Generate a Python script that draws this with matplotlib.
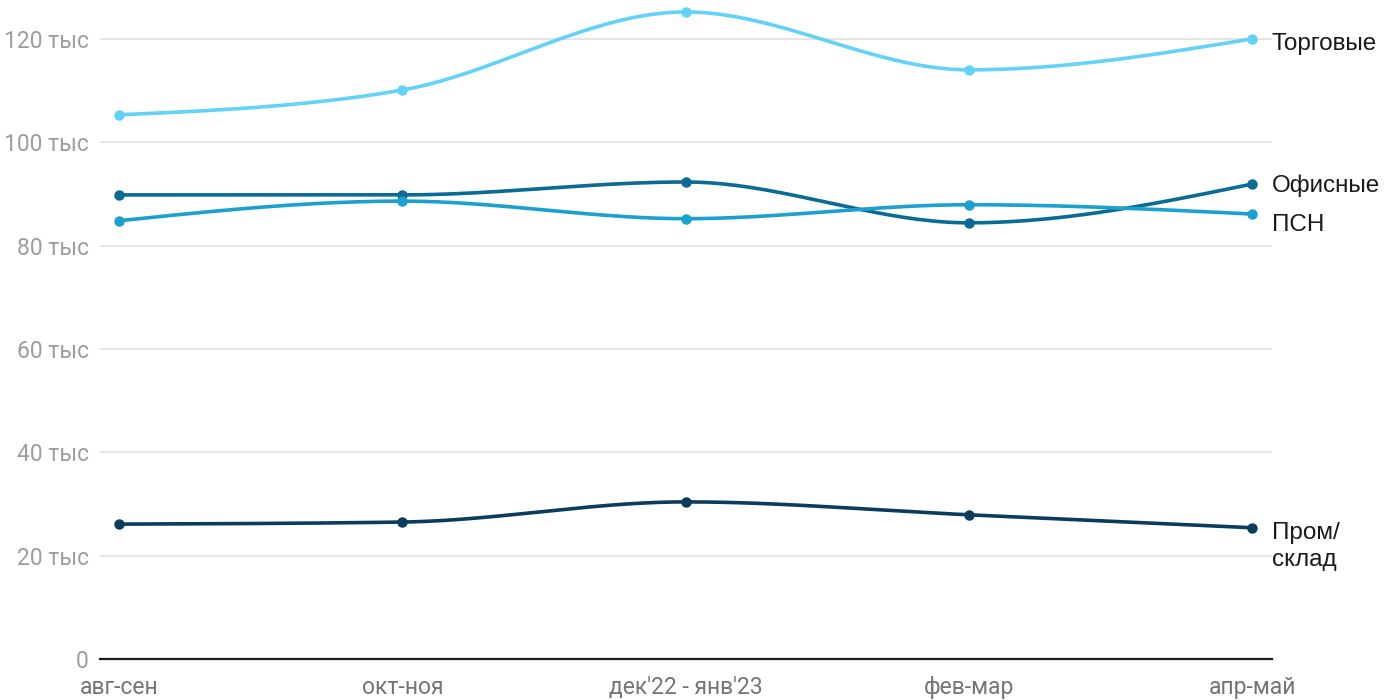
import numpy as np
import matplotlib
matplotlib.use('Agg')
import matplotlib.pyplot as plt

periods = ["авг-сен", "окт-ноя", "дек'22 - янв'23", "фев-мар", "апр-май"]
trade = [105.3, 110.1, 125.2, 114.0, 120.0]
office = [89.8, 89.8, 92.3, 84.4, 91.9]
psn = [84.8, 88.6, 85.2, 87.9, 86.1]
industrial = [26.1, 26.5, 30.4, 27.9, 25.4]

series = [
    ("Торговые", trade, "#62d2f9"),
    ("Офисные", office, "#0a6b96"),
    ("ПСН", psn, "#1ba1cf"),
    ("Пром/\nсклад", industrial, "#0b3c5d"),
]
label_y = {"Торговые": 119.0, "Офисные": 91.5, "ПСН": 84.0, "Пром/\nсклад": 21.7}


def monotone(x, y, n=40):
    # monotone cubic curve, like d3.curveMonotoneX
    x = np.asarray(x, float)
    y = np.asarray(y, float)
    h = np.diff(x)
    s = np.diff(y) / h
    m = np.zeros_like(y)
    for i in range(1, len(y) - 1):
        if s[i - 1] * s[i] <= 0:
            m[i] = 0
        else:
            p = (s[i - 1] * h[i] + s[i] * h[i - 1]) / (h[i - 1] + h[i])
            m[i] = np.sign(s[i - 1]) * min(abs(s[i - 1]), abs(s[i]), 0.5 * abs(p)) * 2
    m[0] = (3 * s[0] - m[1]) / 2 if len(y) > 2 else s[0]
    m[-1] = (3 * s[-1] - m[-2]) / 2 if len(y) > 2 else s[-1]
    xs, ys = [], []
    for i in range(len(h)):
        t = np.linspace(0, 1, n)
        h00 = 2 * t**3 - 3 * t**2 + 1
        h10 = t**3 - 2 * t**2 + t
        h01 = -2 * t**3 + 3 * t**2
        h11 = t**3 - t**2
        xs.append(x[i] + t * h[i])
        ys.append(h00 * y[i] + h10 * h[i] * m[i] + h01 * y[i + 1] + h11 * h[i] * m[i + 1])
    return np.concatenate(xs), np.concatenate(ys)


fig = plt.figure(figsize=(14, 7), dpi=100)
ax = fig.add_axes([100 / 1400, 1 - 659 / 700, 1172 / 1400, 646 / 700])

x = np.arange(len(periods))
for name, vals, color in series:
    cx, cy = monotone(x, vals)
    ax.plot(cx, cy, color=color, lw=2.6, clip_on=False, zorder=3, solid_capstyle='round')
    ax.plot(x, vals, 'o', color=color, ms=6.5, clip_on=False, zorder=4)
    ax.text(4.07, label_y[name], name, fontsize=17.5, color="#1a1a1a",
            family="Liberation Sans", va="center", ha="left", linespacing=1.3)

ax.set_xlim(-0.067, 4.07)
ax.set_ylim(0, 125)
ax.set_yticks([0, 20, 40, 60, 80, 100, 120])
ax.set_yticklabels(["0", "20 тыс", "40 тыс", "60 тыс", "80 тыс", "100 тыс", "120 тыс"],
                   family="Roboto", fontsize=16.5, color="#9e9e9e")
ax.set_xticks(x)
ax.set_xticklabels(periods, family="Roboto", fontsize=16.5, color="#757575")
ax.tick_params(axis='both', length=0)
ax.tick_params(axis='y', pad=8)
ax.tick_params(axis='x', pad=12)
ax.grid(axis='y', color="#e3e3e3", lw=1.3)
ax.set_axisbelow(True)
for sp in ['top', 'right', 'left']:
    ax.spines[sp].set_visible(False)
ax.spines['bottom'].set_color("#1a1a1a")
ax.spines['bottom'].set_linewidth(1.6)

fig.savefig("out.png", dpi=100)
